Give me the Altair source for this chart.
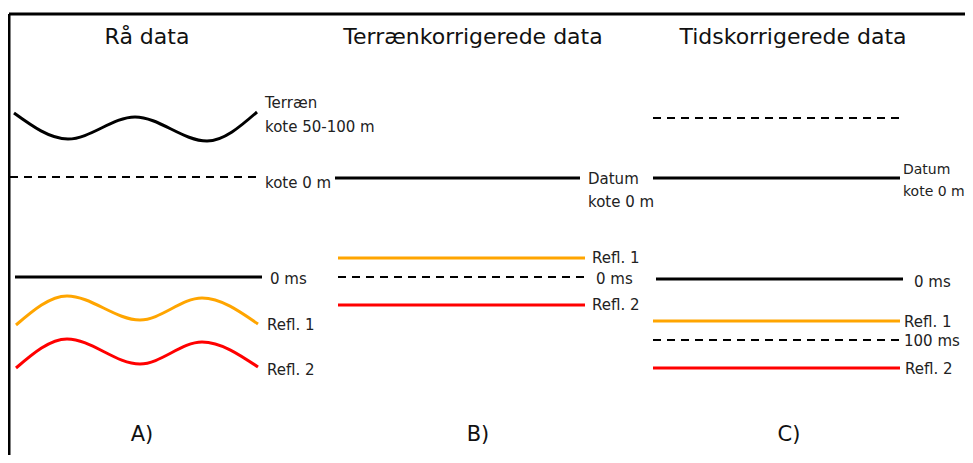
import altair as alt
import pandas as pd

# ---- Diagram data (x to the right, y downwards, in diagram units) ----
# Straight horizontal lines
line_name = ["kote 0 m", "0 ms", "Datum", "Refl. 1", "0 ms", "Refl. 2",
             "kote 0 m", "Datum", "0 ms", "Refl. 1", "100 ms", "Refl. 2"]
line_kind = ["dashed", "black", "black", "refl1", "dashed", "refl2",
             "dashed", "black", "black", "refl1", "dashed", "refl2"]
line_x1 = [10, 15, 335, 338, 338, 338, 653, 653, 656, 653, 653, 653]
line_x2 = [258, 262, 580, 585, 585, 585, 901, 900, 903, 900, 900, 900]
line_y = [177, 277, 178, 258, 277, 305, 118, 178, 279, 321, 340, 368]

# Wavy horizons in the raw data panel
terrain_x = [14, 68, 135, 207, 257]
terrain_y = [113, 139, 117, 141, 112]
refl1_x = [16, 67, 140, 202, 258]
refl1_y = [325, 296, 320, 298, 324]
refl2_x = [16, 67, 140, 202, 258]
refl2_y = [368, 339, 364, 342, 367]

# Frame (top and left edges)
frame_x1 = [9, 9]
frame_x2 = [965, 9]
frame_y1 = [14, 14]
frame_y2 = [14, 455]

# Line labels (the last group sits at the right edge and is slightly smaller)
label_text = ["Terræn", "kote 50-100 m", "kote 0 m", "0 ms", "Refl. 1", "Refl. 2",
              "Datum", "kote 0 m", "Refl. 1", "0 ms", "Refl. 2",
              "0 ms", "Refl. 1", "100 ms", "Refl. 2"]
label_x = [265, 265, 265, 270, 267, 267,
           588, 588, 592, 596, 592,
           914, 904, 904, 905]
label_y = [103, 127, 183, 279, 325, 370,
           179, 202, 258, 279, 305,
           282, 322, 341, 369]
edge_text = ["Datum", "kote 0 m"]
edge_x = [903, 903]
edge_y = [170, 192]

# Panel titles and letters
title_text = ["Rå data", "Terrænkorrigerede data", "Tidskorrigerede data"]
title_x = [147, 473, 793]
title_y = [37, 37, 37]
letter_text = ["A)", "B)", "C)"]
letter_x = [142, 478, 789]
letter_y = [435, 435, 435]

# ---- Build tables ----
lines = pd.DataFrame({"name": line_name, "kind": line_kind,
                      "x1": line_x1, "x2": line_x2, "y": line_y})
waves = pd.concat([
    pd.DataFrame({"wave": "Terræn", "kind": "black", "x": terrain_x, "y": terrain_y}),
    pd.DataFrame({"wave": "Refl. 1", "kind": "refl1", "x": refl1_x, "y": refl1_y}),
    pd.DataFrame({"wave": "Refl. 2", "kind": "refl2", "x": refl2_x, "y": refl2_y}),
], ignore_index=True)
frame = pd.DataFrame({"x1": frame_x1, "x2": frame_x2, "y1": frame_y1, "y2": frame_y2})
labels = pd.DataFrame({"text": label_text, "x": label_x, "y": label_y})
edge_labels = pd.DataFrame({"text": edge_text, "x": edge_x, "y": edge_y})
titles = pd.DataFrame({"text": title_text, "x": title_x, "y": title_y})
letters = pd.DataFrame({"text": letter_text, "x": letter_x, "y": letter_y})

W, H = 957, 447
xs = alt.Scale(domain=[8, 965], nice=False, zero=False)
ys = alt.Scale(domain=[8, 455], nice=False, zero=False, reverse=True)
X = lambda f: alt.X(f, type="quantitative", scale=xs, axis=None)
Y = lambda f: alt.Y(f, type="quantitative", scale=ys, axis=None)
cscale = alt.Scale(domain=["black", "dashed", "refl1", "refl2"],
                   range=["#000000", "#000000", "#FFA500", "#FF0000"])
FONT = "DejaVu Sans"

frame_layer = alt.Chart(frame).mark_rule(color="#000000", strokeWidth=3).encode(
    x=X("x1"), x2="x2", y=Y("y1"), y2="y2")

solid = alt.Chart(lines).transform_filter(alt.datum.kind != "dashed").mark_rule(
    strokeWidth=3).encode(
    x=X("x1"), x2="x2", y=Y("y"),
    color=alt.Color("kind:N", scale=cscale, legend=None))

dashed = alt.Chart(lines).transform_filter(alt.datum.kind == "dashed").mark_rule(
    strokeWidth=2.2, strokeDash=[8, 6], color="#000000").encode(
    x=X("x1"), x2="x2", y=Y("y"))

wave_layer = alt.Chart(waves).mark_line(strokeWidth=3, interpolate="monotone").encode(
    x=X("x"), y=Y("y"), detail="wave:N",
    color=alt.Color("kind:N", scale=cscale, legend=None))

label_layer = alt.Chart(labels).mark_text(
    align="left", baseline="middle", font=FONT, fontSize=15, color="#222222").encode(
    x=X("x"), y=Y("y"), text="text:N")

edge_layer = alt.Chart(edge_labels).mark_text(
    align="left", baseline="middle", font=FONT, fontSize=14, color="#222222").encode(
    x=X("x"), y=Y("y"), text="text:N")

title_layer = alt.Chart(titles).mark_text(
    align="center", baseline="middle", font=FONT, fontSize=22, color="#111111").encode(
    x=X("x"), y=Y("y"), text="text:N")

letter_layer = alt.Chart(letters).mark_text(
    align="center", baseline="middle", font=FONT, fontSize=21, color="#111111").encode(
    x=X("x"), y=Y("y"), text="text:N")

chart = alt.layer(frame_layer, dashed, solid, wave_layer,
                  label_layer, edge_layer, title_layer, letter_layer).properties(
    width=W, height=H, padding=0, autosize=alt.AutoSizeParams(type="none"),
    background="white"
).configure_view(stroke=None)

chart.save("out.html", embed_options={"renderer": "svg", "actions": False})
